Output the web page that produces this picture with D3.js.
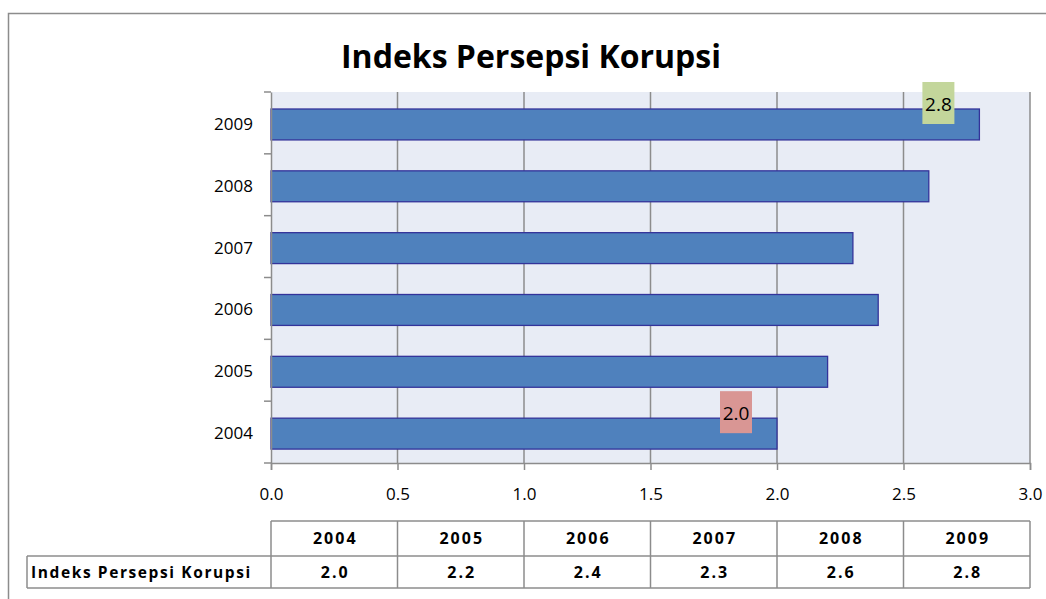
<!DOCTYPE html>
<html>
<head>
<meta charset="utf-8">
<script src="https://cdn.jsdelivr.net/npm/d3@7"></script>
<style>
  body { margin: 0; background: #fff; }
  text { font-family: "Open Sans", sans-serif; }
</style>
</head>
<body>
<div id="chart"></div>
<script>
// data
const years = ["2004", "2005", "2006", "2007", "2008", "2009"];
const values = [2.0, 2.2, 2.4, 2.3, 2.6, 2.8];
const xTicks = [0, 0.5, 1.0, 1.5, 2.0, 2.5, 3.0];
const seriesName = "Indeks Persepsi Korupsi";
// highlighted labels (year -> fill)
const labelYears = ["2004", "2009"];
const labelFills = ["#d99694", "#c3d69b"];

const width = 1046, height = 599;
const plot = {left: 271, right: 1030, top: 92, bottom: 463};

const svg = d3.select("#chart").append("svg")
  .attr("width", width)
  .attr("height", height);

// outer frame
svg.append("rect")
  .attr("x", 8.5).attr("y", 13.5)
  .attr("width", 1060).attr("height", 620)
  .attr("fill", "none")
  .attr("stroke", "#8c8c8c")
  .attr("stroke-width", 1.5);

// title
svg.append("text")
  .attr("x", 531).attr("y", 68)
  .attr("text-anchor", "middle")
  .style("font-size", "32px")
  .style("font-weight", "bold")
  .text(seriesName);

const x = d3.scaleLinear().domain([0, 3]).range([plot.left, plot.right]);
const y = d3.scaleBand().domain(years.slice().reverse())
  .range([plot.top, plot.bottom])
  .paddingInner(0.5).paddingOuter(0.25).align(0.55);

// plot background
svg.append("rect")
  .attr("x", plot.left).attr("y", plot.top)
  .attr("width", plot.right - plot.left).attr("height", plot.bottom - plot.top)
  .attr("fill", "#e8ecf5");

// gridlines
svg.append("g")
  .selectAll("line")
  .data(xTicks.slice(1))
  .join("line")
  .attr("x1", d => x(d)).attr("x2", d => x(d))
  .attr("y1", plot.top).attr("y2", plot.bottom)
  .attr("stroke", "#8c8c8c")
  .attr("stroke-width", 1.5);

// bars
svg.append("g")
  .selectAll("rect")
  .data(years)
  .join("rect")
  .attr("x", x(0))
  .attr("y", d => y(d))
  .attr("width", (d, i) => x(values[i]) - x(0))
  .attr("height", y.bandwidth())
  .attr("fill", "#4f81bd")
  .attr("stroke", "#33339a")
  .attr("stroke-width", 1.3);

// x axis
const xAxis = svg.append("g")
  .attr("transform", `translate(0,${plot.bottom})`)
  .call(d3.axisBottom(x).tickValues(xTicks).tickFormat(d3.format(".1f")).tickSizeOuter(0).tickSize(7).tickPadding(18));
xAxis.select(".domain").attr("stroke", "#8c8c8c").attr("stroke-width", 1.5);
xAxis.selectAll(".tick line").attr("stroke", "#8c8c8c").attr("stroke-width", 1.5);
xAxis.selectAll(".tick text").style("font-size", "17px").attr("fill", "#000");

// y axis (ticks at band boundaries)
const yAxis = svg.append("g")
  .attr("transform", `translate(${plot.left},0)`)
  .call(d3.axisLeft(y).tickSize(0).tickPadding(18));
yAxis.select(".domain").attr("stroke", "#8c8c8c").attr("stroke-width", 1.5);
yAxis.selectAll(".tick text").style("font-size", "17px").attr("fill", "#000");
const bounds = d3.range(years.length + 1).map(i => plot.top + i * (plot.bottom - plot.top) / years.length);
yAxis.selectAll(".bound")
  .data(bounds)
  .join("line")
  .attr("x1", -7).attr("x2", 0)
  .attr("y1", d => d).attr("y2", d => d)
  .attr("stroke", "#8c8c8c")
  .attr("stroke-width", 1.5);

// data labels
labelYears.forEach((yr, k) => {
  const i = years.indexOf(yr);
  const cx = x(values[i]) - 41;
  const top = y(yr);
  const g = svg.append("g");
  g.append("rect")
    .attr("x", cx - 16).attr("y", top - 27)
    .attr("width", 32).attr("height", 42)
    .attr("fill", labelFills[k]);
  g.append("text")
    .attr("x", cx).attr("y", top + 2)
    .attr("text-anchor", "middle")
    .style("font-size", "19px")
    .text(values[i].toFixed(1));
});

// data table
const tTop = 521, tMid = 556, tBot = 588;
const colW = (plot.right - plot.left) / years.length;
const colEdges = d3.range(years.length + 1).map(i => plot.left + i * colW);
const tbl = svg.append("g").attr("stroke", "#8c8c8c").attr("stroke-width", 1.5);
tbl.append("line").attr("x1", plot.left).attr("x2", plot.right).attr("y1", tTop).attr("y2", tTop);
tbl.append("line").attr("x1", 27).attr("x2", plot.right).attr("y1", tMid).attr("y2", tMid);
tbl.append("line").attr("x1", 27).attr("x2", plot.right).attr("y1", tBot).attr("y2", tBot);
tbl.append("line").attr("x1", 27).attr("x2", 27).attr("y1", tMid).attr("y2", tBot);
tbl.selectAll(".col")
  .data(colEdges)
  .join("line")
  .attr("x1", d => d).attr("x2", d => d)
  .attr("y1", tTop).attr("y2", tBot);

const cellFont = sel => sel.style("font-size", "16px").style("font-weight", "bold").style("letter-spacing", "2px");
svg.append("g").selectAll("text")
  .data(years)
  .join("text")
  .attr("x", (d, i) => plot.left + colW * (i + 0.5) + 1)
  .attr("y", 544)
  .attr("text-anchor", "middle")
  .call(cellFont)
  .text(d => d);
svg.append("g").selectAll("text")
  .data(values)
  .join("text")
  .attr("x", (d, i) => plot.left + colW * (i + 0.5) + 1)
  .attr("y", 578)
  .attr("text-anchor", "middle")
  .call(cellFont)
  .text(d => d.toFixed(1));
svg.append("text")
  .attr("x", 31).attr("y", 578)
  .call(cellFont)
  .style("font-size", "15.5px")
  .style("letter-spacing", "1.6px")
  .text(seriesName);
</script>
</body>
</html>
